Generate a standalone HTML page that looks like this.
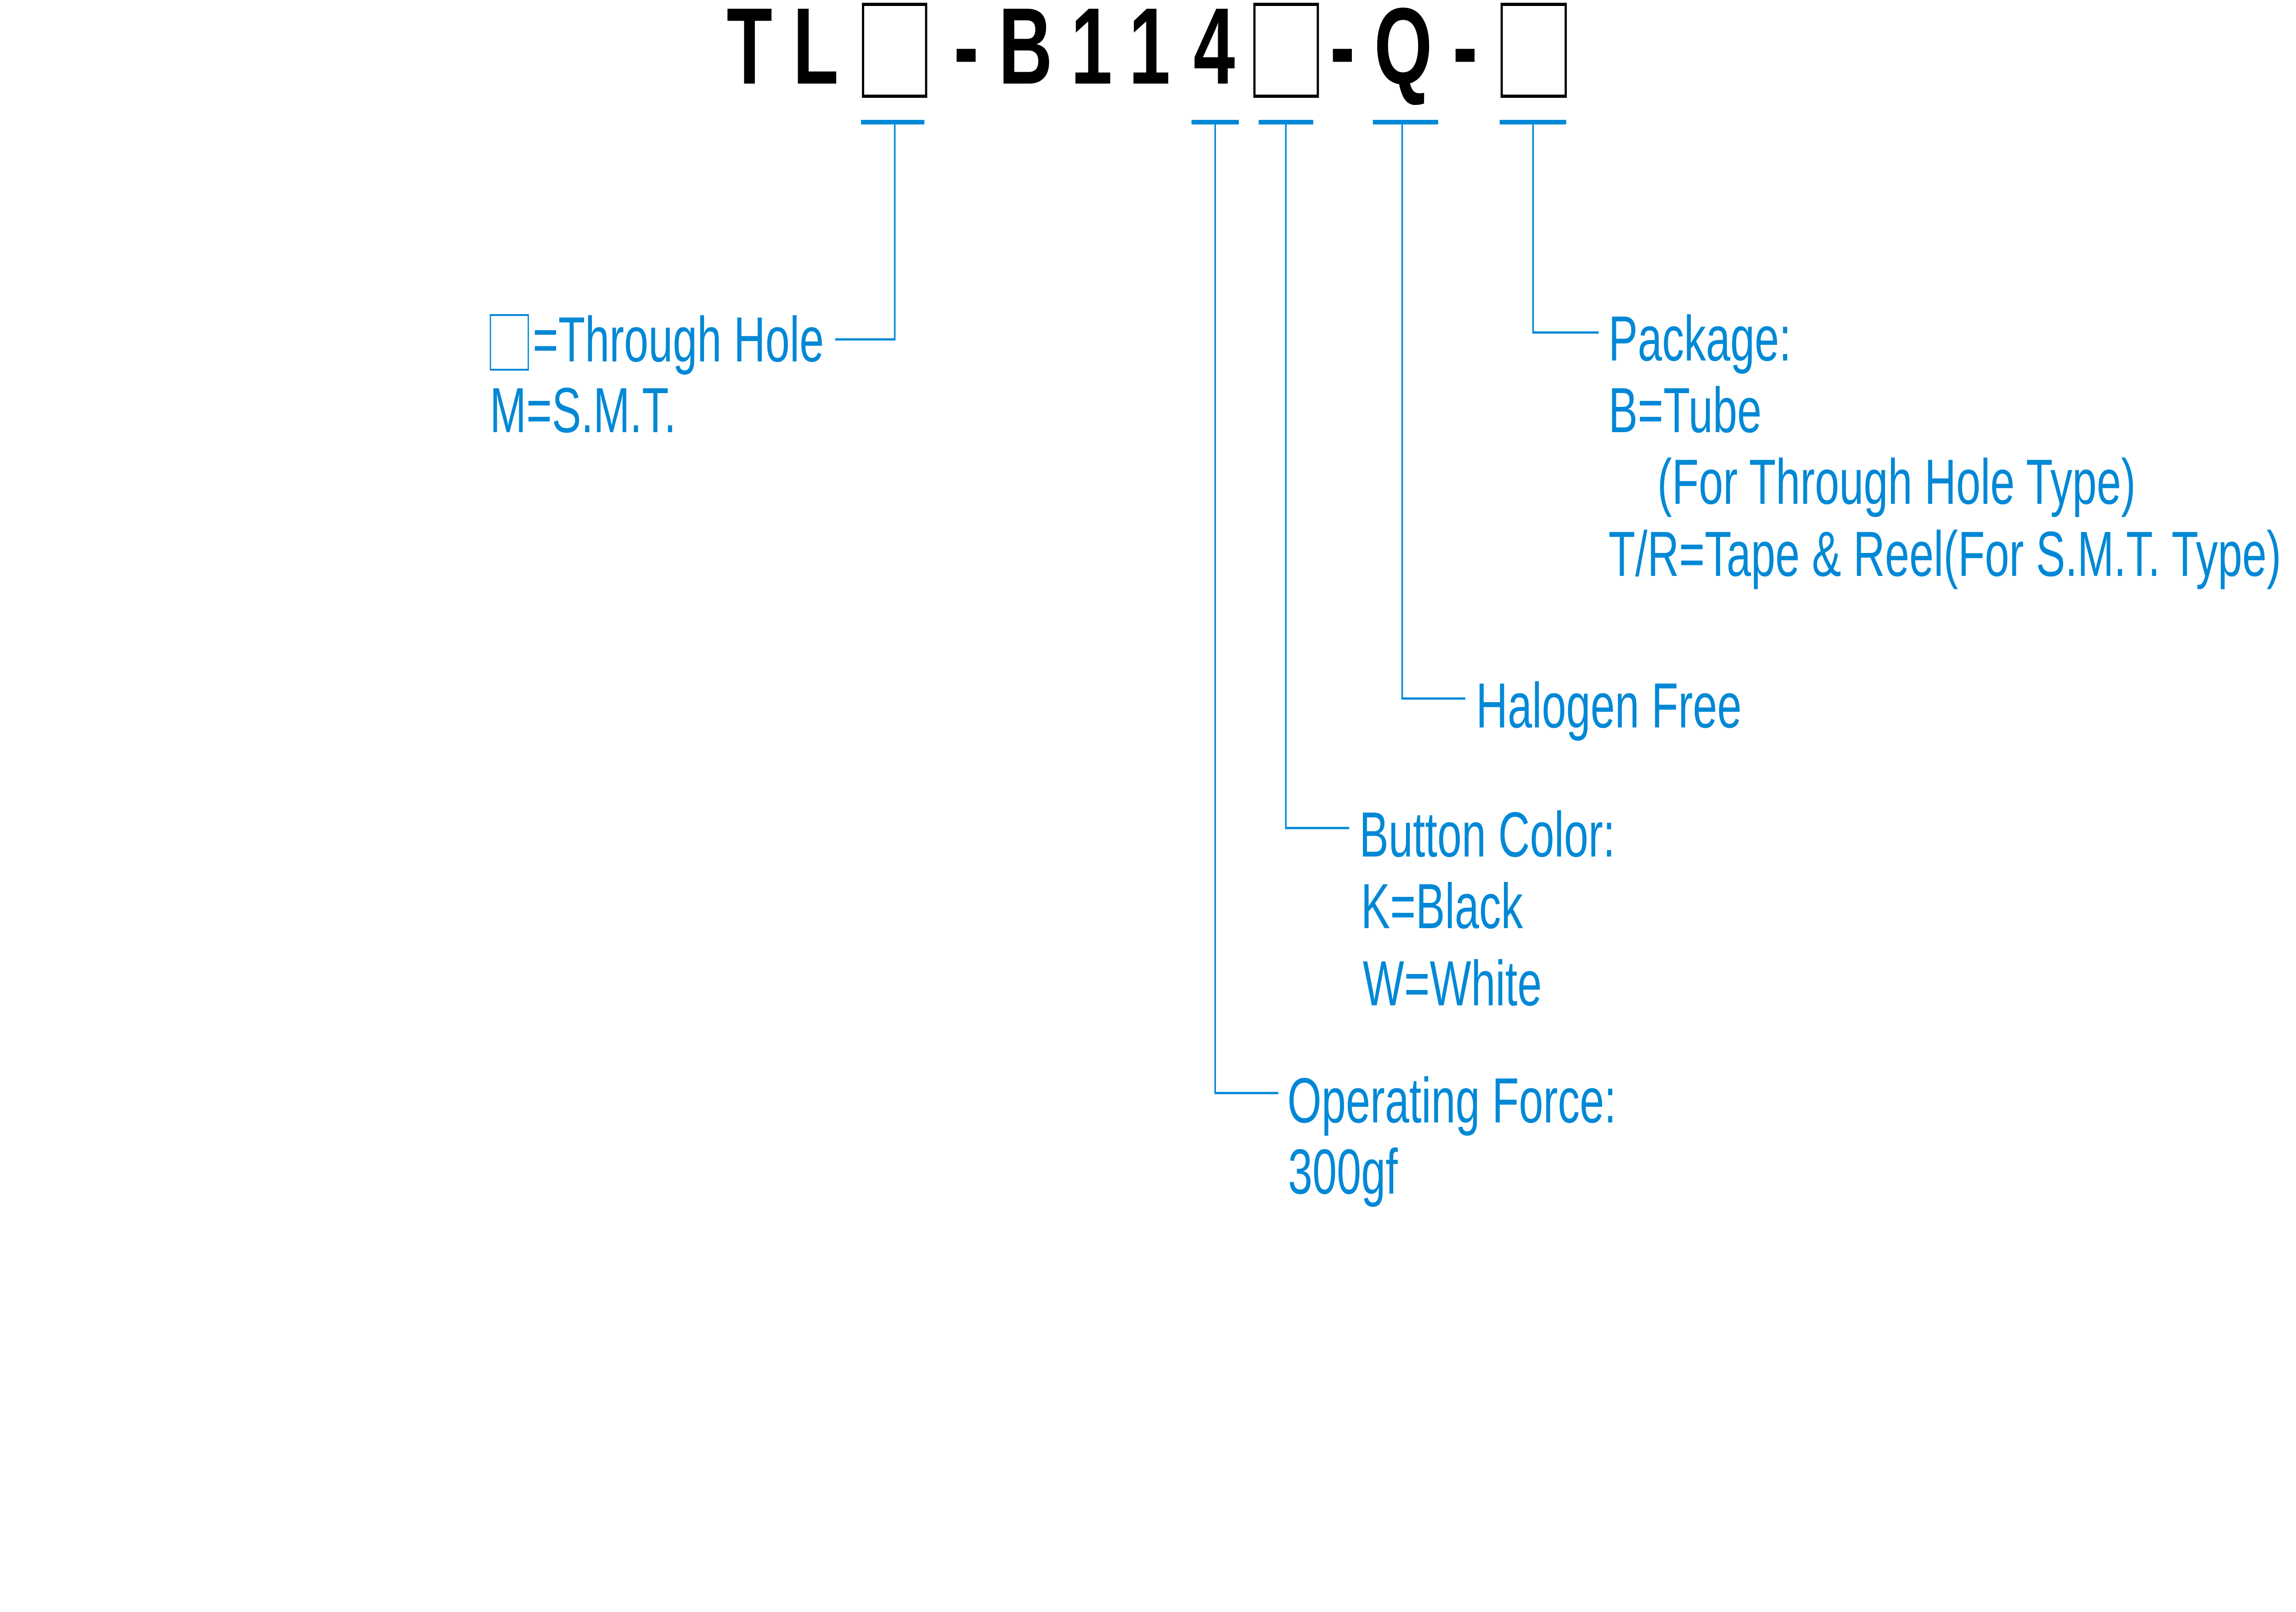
<!DOCTYPE html>
<html><head><meta charset="utf-8"><style>
html,body{margin:0;padding:0;background:#fff;width:100%;height:100%;overflow:hidden;}
svg{display:block;width:100vw;height:100vh;}
.t{font-family:"Liberation Sans",Arial,sans-serif;font-weight:bold;font-size:237px;fill:#000;}
.b{font-family:"Liberation Sans",Arial,sans-serif;font-size:139px;fill:#0088d6;}
</style></head><body>
<svg viewBox="0 0 7280 3510" preserveAspectRatio="none" xmlns="http://www.w3.org/2000/svg">
<rect width="7280" height="3510" fill="#fff"/>
<text class="t" x="2304" y="182">T</text>
<text class="t" x="2514" y="182">L</text>
<rect x="2736.5" y="9.5" width="200" height="200" fill="none" stroke="#000" stroke-width="7"/>
<text class="t" x="3024" y="182">-</text>
<text class="t" x="3166" y="182">B</text>
<text class="t" x="3395" y="182">1</text>
<text class="t" x="3579" y="182">1</text>
<text class="t" x="3784" y="182">4</text>
<rect x="3977.5" y="9.5" width="201" height="200" fill="none" stroke="#000" stroke-width="7"/>
<text class="t" x="4217" y="182">-</text>
<text class="t" x="4357" y="182">Q</text>
<text class="t" x="4606" y="182">-</text>
<rect x="4761.5" y="9.5" width="203" height="200" fill="none" stroke="#000" stroke-width="7"/>
<g fill="#0088d6">
<rect x="2730" y="261" width="201" height="10"/>
<rect x="3778" y="261" width="150" height="10"/>
<rect x="3991" y="261" width="173" height="10"/>
<rect x="4353" y="261" width="207" height="10"/>
<rect x="4755" y="261" width="211" height="10"/>
</g>
<g fill="none" stroke="#0088d6" stroke-width="5">
<polyline points="2837,271 2837,739 2648,739"/>
<polyline points="3853,271 3853,2380 4053,2380"/>
<polyline points="4077,271 4077,1803 4278,1803"/>
<polyline points="4446,271 4446,1521 4646,1521"/>
<polyline points="4861,271 4861,724 5069,724"/>
</g>
<rect x="1555" y="686" width="120" height="119" fill="none" stroke="#0088d6" stroke-width="4"/>
<text class="b" x="1689" y="787">=Through Hole</text>
<text class="b" x="1553" y="941">M=S.M.T.</text>
<text class="b" x="5100" y="785">Package:</text>
<text class="b" x="5100" y="941">B=Tube</text>
<text class="b" x="5255" y="1097">(For Through Hole Type)</text>
<text class="b" x="5100" y="1254">T/R=Tape &amp; Reel(For S.M.T. Type)</text>
<text class="b" x="4680" y="1584">Halogen Free</text>
<text class="b" x="4310" y="1865">Button Color:</text>
<text class="b" x="4315" y="2021">K=Black</text>
<text class="b" x="4321" y="2189">W=White</text>
<text class="b" x="4082" y="2444">Operating Force:</text>
<text class="b" x="4084" y="2599">300gf</text>
</svg>
</body></html>
